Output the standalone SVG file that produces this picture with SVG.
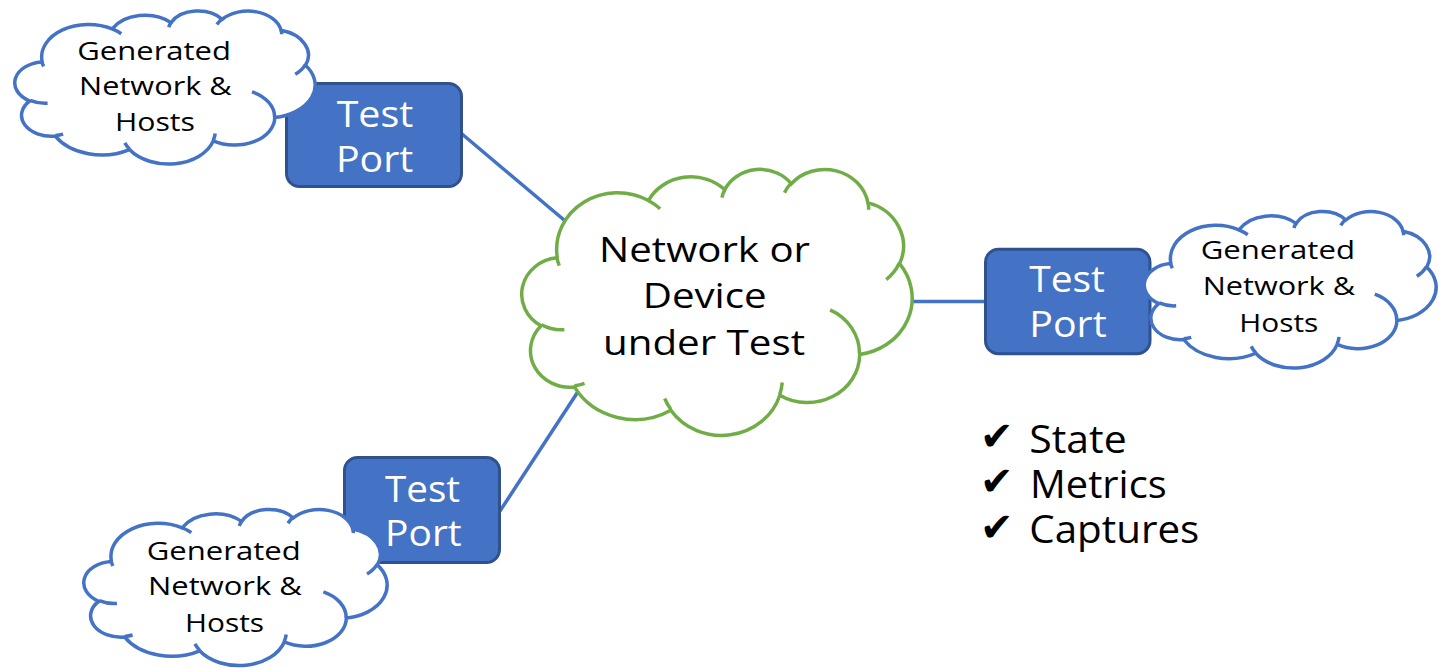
<svg xmlns="http://www.w3.org/2000/svg" xmlns:xlink="http://www.w3.org/1999/xlink" width="1439" height="668" viewBox="0 0 1439 668">
<style>
.bg{fill:#ffffff}
.conn{stroke:#4472C4;stroke-width:3.5;fill:none}
.cloudB{fill:#ffffff;stroke:#4472C4;stroke-width:3.5}
.cloudG{fill:#ffffff;stroke:#70AD47;stroke-width:3.5}
.innerB{fill:none;stroke:#4472C4;stroke-width:3.5}
.innerG{fill:none;stroke:#70AD47;stroke-width:3.5}
.port{fill:#4472C4;stroke:#2F528F;stroke-width:3}
.ptxt{font-family:"Open Sans","Liberation Sans",sans-serif;font-size:37px;fill:#ffffff}
.ctxt{font-family:"Open Sans","Liberation Sans",sans-serif;font-size:26px;fill:#000000}
.dtxt{font-family:"Open Sans","Liberation Sans",sans-serif;font-size:35px;fill:#000000}
.ltxt{font-family:"Open Sans","Liberation Sans",sans-serif;font-size:39px;fill:#000000}
.chk{font-family:"DejaVu Sans",sans-serif;font-size:40px;fill:#000000}
</style>
<defs>
<path id="cloudOuter" vector-effect="non-scaling-stroke" d="M 9.028 33.264 A 15.632 21.273 0 0 1 32.419 12.042 A 12.345 16.822 0 0 1 51.986 7.951 A 10.104 13.762 0 0 1 69.066 5.753 A 11.243 15.266 0 0 1 88.708 12.919 A 12.345 16.836 0 0 1 96.810 35.798 A 15.683 21.343 0 0 1 86.588 69.918 A 13.391 18.211 0 0 1 66.104 85.219 A 15.630 21.331 0 0 1 38.154 90.896 A 17.870 24.405 0 0 1 13.441 82.109 A 10.093 13.699 0 0 1 4.893 59.148 A 10.058 13.762 0 0 1 8.944 33.584 Z"/>
<path id="cloudInner" vector-effect="non-scaling-stroke" d="M 10.863 60.595 A 10.058 13.762 0 0 1 5.000 58.750 M 16.037 80.785 A 10.093 13.699 0 0 1 13.471 81.668 M 38.144 90.486 A 15.630 21.331 0 0 1 36.596 86.453 M 66.729 80.442 A 15.630 21.331 0 0 1 66.112 84.862 M 79.002 53.134 A 13.391 18.211 0 0 1 86.529 69.653 M 96.755 35.542 A 12.345 16.836 0 0 1 93.404 41.735 M 88.713 12.560 A 11.243 15.266 0 0 1 88.890 15.485 M 67.310 9.148 A 11.243 15.266 0 0 1 69.028 5.415 M 51.252 10.926 A 10.104 13.762 0 0 1 52.083 7.709 M 32.407 12.019 A 15.632 21.273 0 0 1 35.424 15.149 M 9.553 36.549 A 15.632 21.273 0 0 1 8.9 33.4"/>
</defs>
<rect class="bg" x="0" y="0" width="1439" height="668"/>

<g id="connectors">
<line class="conn" x1="462" y1="134" x2="570" y2="225"/>
<line class="conn" x1="500" y1="511" x2="583" y2="384"/>
<line class="conn" x1="908" y1="301.5" x2="988" y2="301.5"/>
</g>

<g id="port-top-left">
<rect class="port" x="286.5" y="83.5" width="175" height="103" rx="13"/>
<text class="ptxt" x="336.7" y="126.7" textLength="76.6" lengthAdjust="spacingAndGlyphs">Test</text>
<text class="ptxt" x="336" y="171.7" textLength="77.3" lengthAdjust="spacingAndGlyphs">Port</text>
</g>
<g id="cloud-top-left">
<use xlink:href="#cloudOuter" href="#cloudOuter" class="cloudB" transform="translate(15,10.5) scale(3.0,1.53)"/>
<use xlink:href="#cloudInner" href="#cloudInner" class="innerB" transform="translate(15,10.5) scale(3.0,1.53)"/>
<text class="ctxt" x="77.3" y="60" textLength="153.7" lengthAdjust="spacingAndGlyphs">Generated</text>
<text class="ctxt" x="79" y="95" textLength="152.7" lengthAdjust="spacingAndGlyphs">Network &amp;</text>
<text class="ctxt" x="115" y="131" textLength="80" lengthAdjust="spacingAndGlyphs">Hosts</text>
</g>

<g id="port-right">
<rect class="port" x="985.5" y="249.2" width="164.5" height="104.5" rx="13"/>
<text class="ptxt" x="1029.3" y="291.7" textLength="75.7" lengthAdjust="spacingAndGlyphs">Test</text>
<text class="ptxt" x="1029.3" y="336.7" textLength="77.4" lengthAdjust="spacingAndGlyphs">Port</text>
</g>
<g id="cloud-right">
<use xlink:href="#cloudOuter" href="#cloudOuter" class="cloudB" transform="translate(1144.5,211) scale(2.915,1.565)"/>
<use xlink:href="#cloudInner" href="#cloudInner" class="innerB" transform="translate(1144.5,211) scale(2.915,1.565)"/>
<text class="ctxt" x="1200.7" y="259.3" textLength="154.3" lengthAdjust="spacingAndGlyphs">Generated</text>
<text class="ctxt" x="1202.7" y="295" textLength="152.3" lengthAdjust="spacingAndGlyphs">Network &amp;</text>
<text class="ctxt" x="1239.3" y="331.7" textLength="79" lengthAdjust="spacingAndGlyphs">Hosts</text>
</g>

<g id="port-bottom-left">
<rect class="port" x="344.5" y="457.5" width="155" height="105" rx="13"/>
<text class="ptxt" x="385" y="501.7" textLength="75" lengthAdjust="spacingAndGlyphs">Test</text>
<text class="ptxt" x="385" y="546" textLength="76.7" lengthAdjust="spacingAndGlyphs">Port</text>
</g>
<g id="cloud-bottom-left">
<use xlink:href="#cloudOuter" href="#cloudOuter" class="cloudB" transform="translate(84,509) scale(3.03,1.56)"/>
<use xlink:href="#cloudInner" href="#cloudInner" class="innerB" transform="translate(84,509) scale(3.03,1.56)"/>
<text class="ctxt" x="146.7" y="560" textLength="154" lengthAdjust="spacingAndGlyphs">Generated</text>
<text class="ctxt" x="148" y="595" textLength="153.7" lengthAdjust="spacingAndGlyphs">Network &amp;</text>
<text class="ctxt" x="185" y="632.3" textLength="79" lengthAdjust="spacingAndGlyphs">Hosts</text>
</g>

<g id="cloud-dut">
<use xlink:href="#cloudOuter" href="#cloudOuter" class="cloudG" transform="translate(522,168.5) scale(3.9,2.66)"/>
<use xlink:href="#cloudInner" href="#cloudInner" class="innerG" transform="translate(522,168.5) scale(3.9,2.66)"/>
<text class="dtxt" x="599" y="261.7" textLength="211" lengthAdjust="spacingAndGlyphs">Network or</text>
<text class="dtxt" x="642.7" y="308.3" textLength="124" lengthAdjust="spacingAndGlyphs">Device</text>
<text class="dtxt" x="603" y="355" textLength="202" lengthAdjust="spacingAndGlyphs">under Test</text>
</g>

<g id="checklist">
<text class="chk" x="980" y="450">✔</text>
<text class="chk" x="980" y="495">✔</text>
<text class="chk" x="980" y="541">✔</text>
<text class="ltxt" x="1029.3" y="453.3" textLength="97.4" lengthAdjust="spacingAndGlyphs">State</text>
<text class="ltxt" x="1030" y="498.3" textLength="136.7" lengthAdjust="spacingAndGlyphs">Metrics</text>
<text class="ltxt" x="1029.3" y="543.3" textLength="170" lengthAdjust="spacingAndGlyphs">Captures</text>
</g>
</svg>
